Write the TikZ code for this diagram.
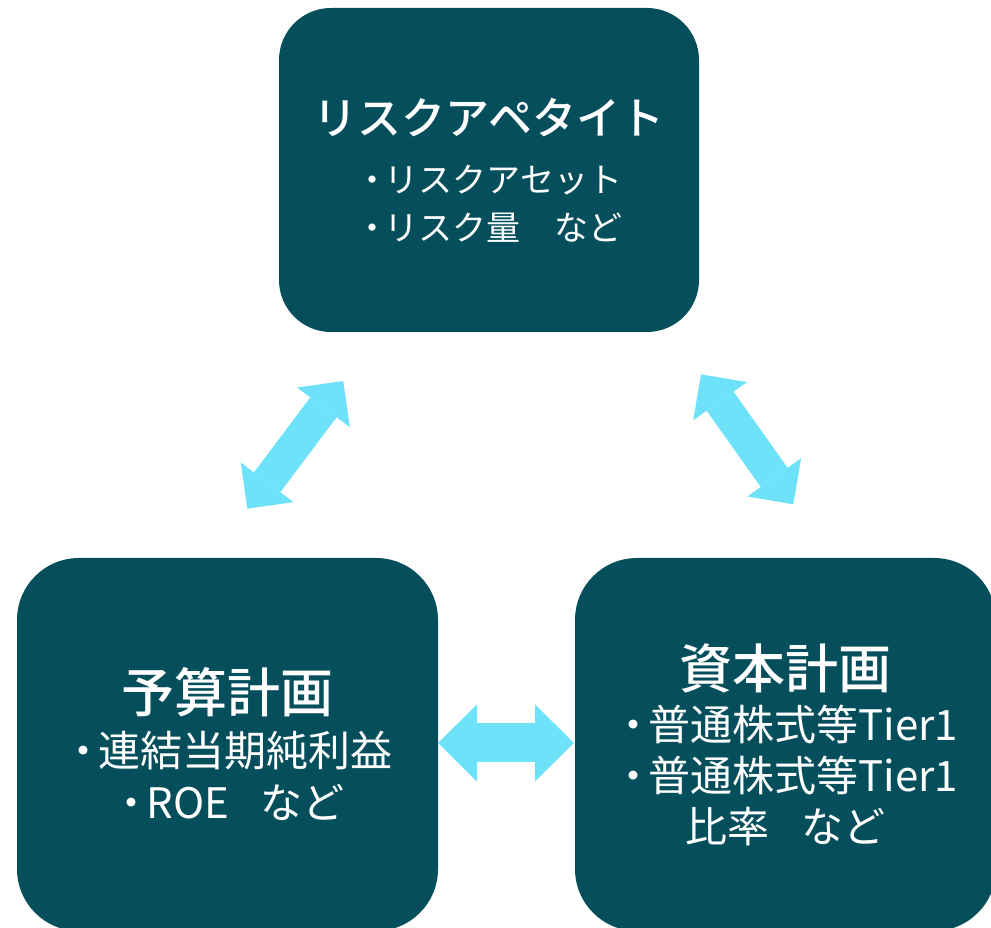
\documentclass[tikz,border=0pt]{standalone}
\usepackage{fontspec}
\setmainfont{Noto Sans CJK JP}
\newfontfamily\titlefont{Noto Sans CJK JP Medium}
\usepackage{xcolor}
\usetikzlibrary{arrows.meta}
\definecolor{boxteal}{RGB}{5,79,92}
\definecolor{linkcyan}{RGB}{110,226,248}
\newcommand{\dotitem}{・\hspace{-.15em}}
\tikzset{
  box/.style={fill=boxteal, text=white, align=center, inner sep=0pt},
  link/.style={draw=linkcyan, line width=33pt, <->, >={Triangle[length=33pt,width=66pt,line width=0pt]}},
  hlink/.style={draw=linkcyan, line width=39pt, <->, >={Triangle[length=39pt,width=77pt,line width=0pt]}}
}

\begin{document}
\begin{tikzpicture}[x=1pt,y=1pt]
\useasboundingbox (0,0) rectangle (991,927);
% the three plans
\node[box, rounded corners=52pt, minimum width=420pt, minimum height=324pt,
  font=\fontsize{34}{48}\selectfont] (risk) at (489,757)
  {{\fontsize{44}{58}\selectfont\titlefont リスクアペタイト}\\[10pt]\dotitem リスクアセット\\\dotitem リスク量　など};
\node[box, rounded corners=62pt, minimum width=421pt, minimum height=373pt,
  font=\fontsize{42}{52}\selectfont] (budget) at (227.5,182.5)
  {{\fontsize{53}{60}\selectfont\titlefont 予算計画}\\[2pt]\dotitem 連結当期純利益\\\dotitem ROE\hspace{.75em}など};
\node[box, rounded corners=62pt, minimum width=421pt, minimum height=373pt,
  font=\fontsize{42}{51}\selectfont] (capital) at (785.5,182.5)
  {{\fontsize{53}{60}\selectfont\titlefont 資本計画}\\[1pt]\dotitem 普通株式等Tier1\\\dotitem 普通株式等Tier1\\比率\hspace{.75em}など};
% arrow ends
\coordinate (rb1) at (247.3,418.3);
\coordinate (rb2) at (343.3,546);
\coordinate (rc1) at (701,552.7);
\coordinate (rc2) at (793.3,422.7);
\coordinate (bc1) at (438,184);
\coordinate (bc2) at (574,184);
\draw[link] (rb1) -- (rb2);
\draw[link] (rc1) -- (rc2);
\draw[hlink] (bc1) -- (bc2);
\end{tikzpicture}
\end{document}
